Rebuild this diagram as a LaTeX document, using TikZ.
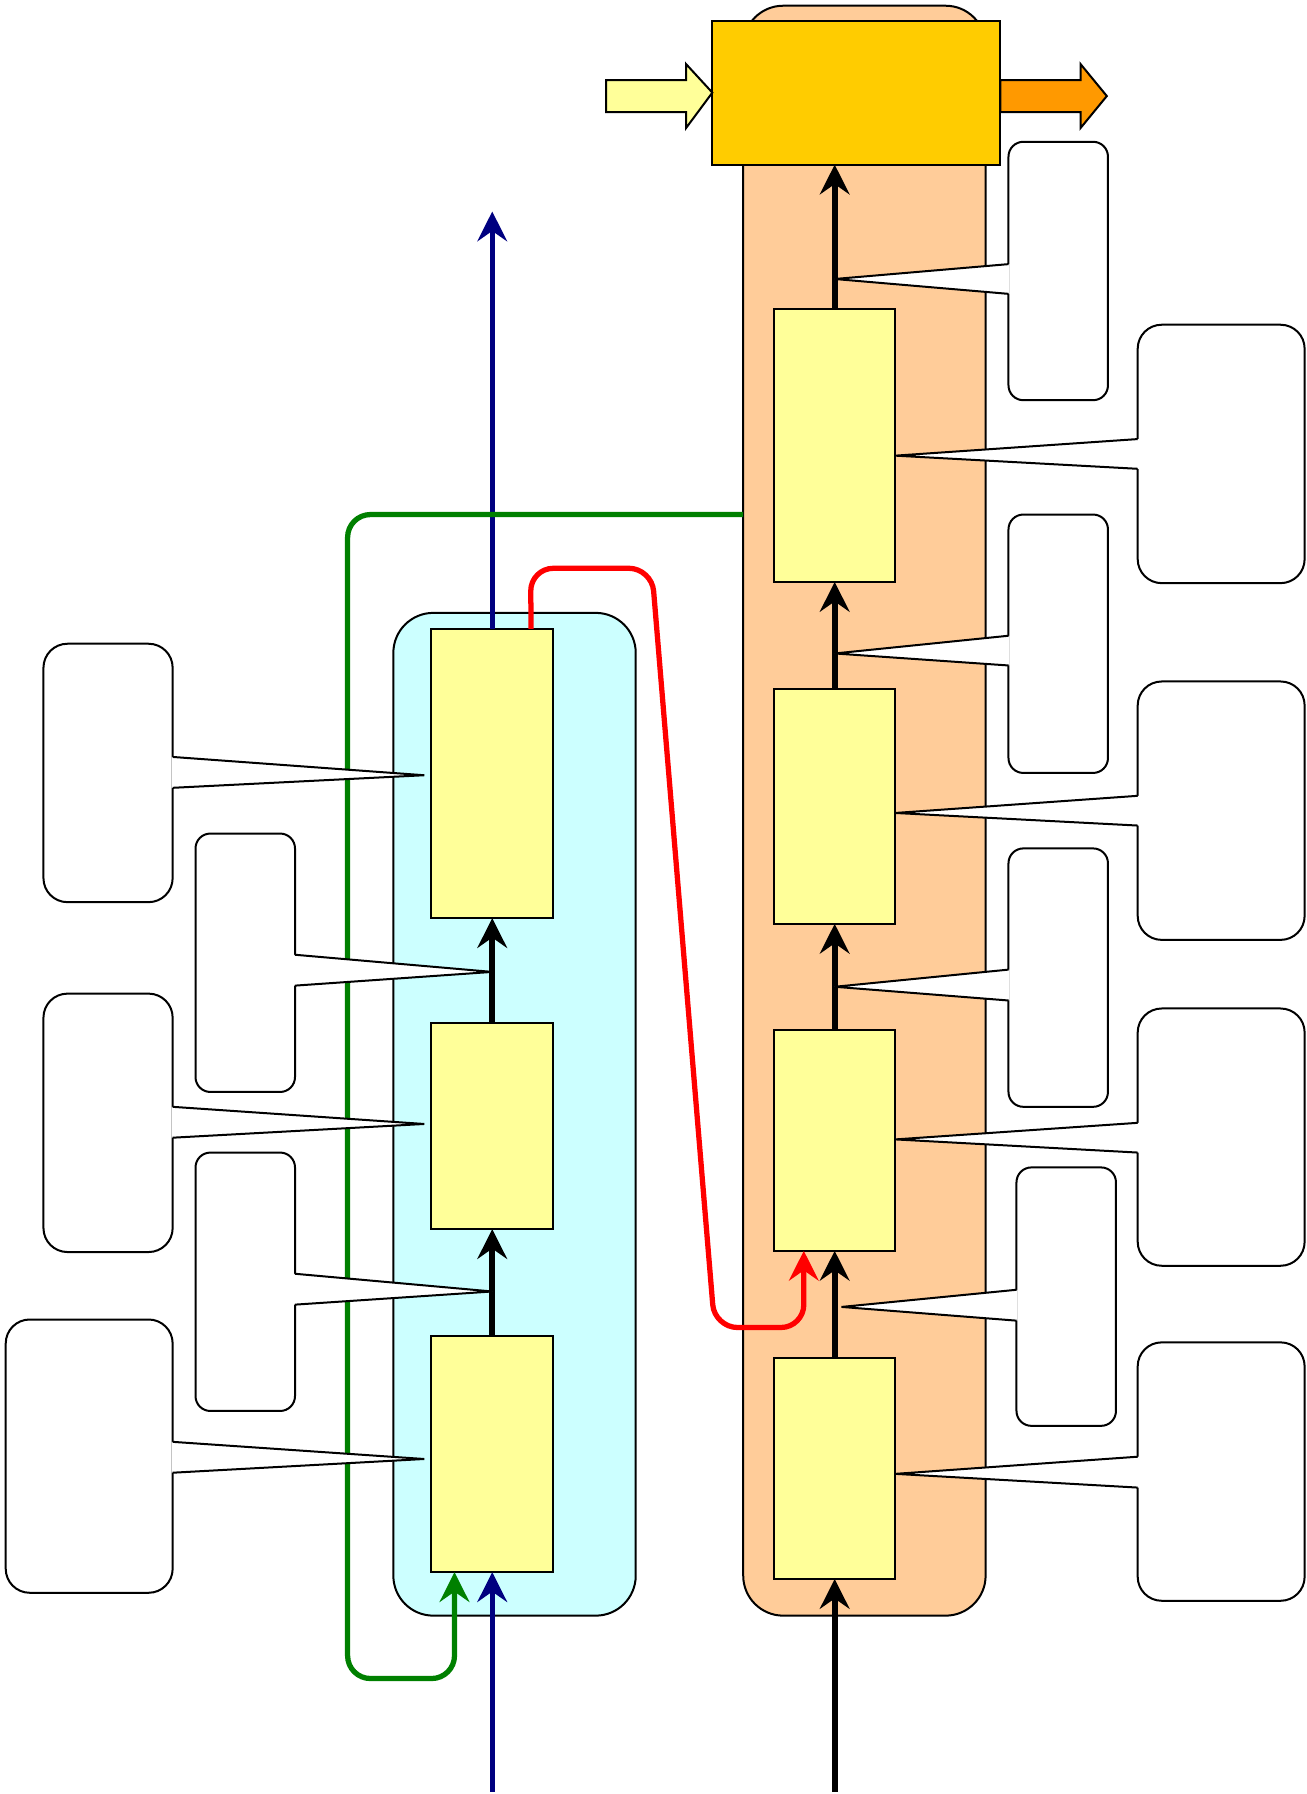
\documentclass[tikz,border=0pt]{standalone}
\usetikzlibrary{arrows.meta}
\definecolor{peach}{HTML}{FFCC99}
\definecolor{cyanbg}{HTML}{CCFFFF}
\definecolor{ylw}{HTML}{FFFF99}
\definecolor{gold}{HTML}{FFCC00}
\definecolor{orng}{HTML}{FF9900}
\definecolor{navy}{HTML}{000080}
\definecolor{grn}{HTML}{008000}
\newcommand\cptr[5]{%
  \fill[white] (#1#5,#2) -- (#4) -- (#1#5,#3) -- cycle;
  \draw[thinline] (#1,#2) -- (#4) -- (#1,#3);
}
\begin{document}
\begin{tikzpicture}[x=1pt,y=-1pt,
  thinline/.style={draw=black,line width=1.75pt},
  panel/.style={thinline,rounded corners=35pt,inner sep=0pt,outer sep=0pt},
  ybox/.style={thinline,fill=ylw,inner sep=0pt,outer sep=0pt},
  cbox/.style={thinline,fill=white,inner sep=0pt,outer sep=0pt},
  smallc/.style={cbox,rounded corners=13pt,minimum width=87pt,minimum height=226pt},
  bigc/.style={cbox,rounded corners=21pt},
  tipstyle/.style={-{Stealth[length=26pt,width=26pt,inset=9pt]}},
  flow/.style={tipstyle,line width=5pt,draw=black},
  cflow/.style={tipstyle,line width=4.6pt,rounded corners=20pt}
]
\useasboundingbox (0,0) rectangle (1143,1569);
% panels
\node[panel,fill=peach,minimum width=212pt,minimum height=1408pt] (peachp) at (756,709) {};
\node[panel,fill=cyanbg,minimum width=212pt,minimum height=877pt] (cyanp) at (450,974.5) {};
% right column boxes
\node[ybox,minimum width=106pt,minimum height=239pt] (R4) at (730,389.5) {};
\node[ybox,minimum width=106pt,minimum height=205pt] (R3) at (730,705.5) {};
\node[ybox,minimum width=106pt,minimum height=193pt] (R2) at (730,997.5) {};
\node[ybox,minimum width=106pt,minimum height=193pt] (R1) at (730,1284.5) {};
% left column boxes
\node[ybox,minimum width=107pt,minimum height=253pt] (L3) at (430.5,676.5) {};
\node[ybox,minimum width=107pt,minimum height=180pt] (L2) at (430.5,985) {};
\node[ybox,minimum width=107pt,minimum height=207pt] (L1) at (430.5,1271.5) {};
% top box
\node[thinline,fill=gold,inner sep=0pt,outer sep=0pt,minimum width=252pt,minimum height=126pt] (gold) at (749,81) {};
% block arrows
\draw[thinline,fill=ylw] (530,70) -- (600,70) -- (600,56) -- (gold.west) -- (600,112) -- (600,98) -- (530,98) -- cycle;
\draw[thinline,fill=orng] (gold.east |- 0,70) -- (945,70) -- (945,56) -- (968,84) -- (945,112) -- (945,98) -- (gold.east |- 0,98) -- cycle;
% coordinates
\coordinate (bin) at (430.5,1567);
\coordinate (bout) at (430.5,185);
\coordinate (kin) at (730,1567);
% right column flow
\draw[flow] (kin) -- (R1.south);
\draw[flow] (R1.north) -- (R2.south);
\draw[flow] (R2.north) -- (R3.south);
\draw[flow] (R3.north) -- (R4.south);
\draw[flow] (R4.north) -- (R4.north |- gold.south);
% left column flow
\draw[flow] (L1.north) -- (L2.south);
\draw[flow] (L2.north) -- (L3.south);
\draw[cflow,draw=navy] (bin) -- (L1.south);
\draw[cflow,draw=navy] (L3.north) -- (bout);
% green feedback
\draw[cflow,draw=grn] (peachp.west |- 0,450) -- (304,450) -- (304,1468) -- (397.5,1468) -- ([xshift=-33pt]L1.south);
% red link
\draw[cflow,draw=red] ([xshift=34pt]L3.north) -- (464,497) -- (570,497) -- (625,1161) -- (703,1161) -- (R2.south -| 703,0);
% callout boxes
\node[bigc,minimum width=113pt,minimum height=226pt] (LB3) at (94.5,676) {};
\node[bigc,minimum width=113pt,minimum height=226pt] (LB2) at (94.5,982) {};
\node[bigc,minimum width=146pt,minimum height=239pt] (LB1) at (78,1273.5) {};
\node[smallc] (LS2) at (214.5,842) {};
\node[smallc] (LS1) at (214.5,1121) {};
\node[smallc] (S4) at (925.5,237) {};
\node[smallc] (S3) at (925.5,563) {};
\node[smallc] (S2) at (925.5,855) {};
\node[smallc] (S1) at (932.5,1134) {};
\node[bigc,minimum width=146pt,minimum height=226pt] (B4) at (1068,397) {};
\node[bigc,minimum width=146pt,minimum height=226pt] (B3) at (1068,709) {};
\node[bigc,minimum width=146pt,minimum height=225pt] (B2) at (1068,994.5) {};
\node[bigc,minimum width=146pt,minimum height=226pt] (B1) at (1068,1287) {};
% pointer tips
\coordinate (tLB3) at (371,678);
\coordinate (tLB2) at (371,983);
\coordinate (tLB1) at (371,1276);
\coordinate (tLS2) at (430.5,850);
\coordinate (tLS1) at (430.5,1129.5);
\coordinate (tS4) at (730,244);
\coordinate (tS3) at (730,571.5);
\coordinate (tS2) at (730,863);
\coordinate (tS1) at (736,1143);
\coordinate (tB4) at (R4.east |- 0,398.5);
\coordinate (tB3) at (R3.east |- 0,711);
\coordinate (tB2) at (R2.east |- 0,996.5);
\coordinate (tB1) at (R1.east |- 0,1289);
% pointers
\cptr{151}{662}{689}{tLB3}{-1}
\cptr{151}{968}{995}{tLB2}{-1}
\cptr{151}{1261}{1288}{tLB1}{-1}
\cptr{258}{835}{862}{tLS2}{-1}
\cptr{258}{1114}{1141}{tLS1}{-1}
\cptr{882}{231}{257}{tS4}{+1}
\cptr{882}{556}{582}{tS3}{+1}
\cptr{882}{848}{875}{tS2}{+1}
\cptr{889}{1128}{1155}{tS1}{+1}
\cptr{995}{384}{410}{tB4}{+1}
\cptr{995}{696}{722}{tB3}{+1}
\cptr{995}{982}{1008}{tB2}{+1}
\cptr{995}{1274}{1301}{tB1}{+1}
\end{tikzpicture}
\end{document}
